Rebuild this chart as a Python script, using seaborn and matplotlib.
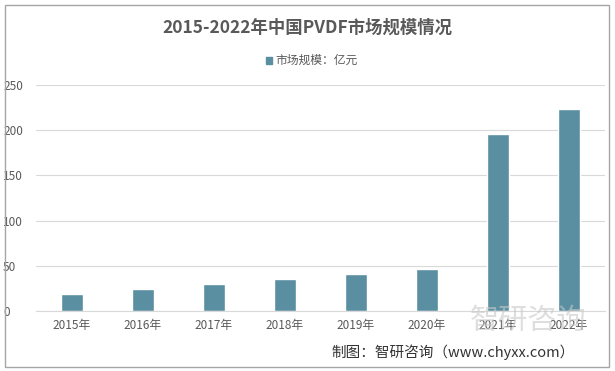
import pandas as pd
import numpy as np
import matplotlib.pyplot as plt
import seaborn as sns
from matplotlib.patches import Rectangle

years=["2015年","2016年","2017年","2018年","2019年","2020年","2021年","2022年"]
market=[18.9,24.3,30.2,35.4,40.9,46.5,195.8,223.5]
yticks=[0,50,100,150,200,250]

df=pd.DataFrame({"year":years,"value":market})

sns.set_style("white")
plt.rcParams['font.family']=['Noto Sans CJK SC','DejaVu Sans']

fig=plt.figure(figsize=(6.15,3.71),dpi=100)
ax=fig.add_axes([0.059,0.162,0.924,0.609])

bar_color="#5a8fa2"
sns.barplot(data=df,x="year",y="value",color=bar_color,width=0.305,ax=ax,saturation=1)

ax.set_ylim(0,250)
ax.set_yticks(yticks)
ax.set_xlim(-0.5,7.5)
ax.grid(axis="y",color="#d9d9d9",lw=0.8)
ax.set_axisbelow(True)
for s in ["top","right","left"]:
    ax.spines[s].set_visible(False)
ax.spines["bottom"].set_color("#d9d9d9")
ax.tick_params(axis="both",length=0,labelsize=8.5,colors="#595959")
ax.tick_params(axis="x",pad=6)
ax.set_xlabel("")
ax.set_ylabel("")
for t in ax.get_yticklabels():
    t.set_horizontalalignment("left")
    t.set_x(-0.05)

# frame round the whole chart
fig.patches.append(Rectangle((0.008,0.011),0.983,0.976,transform=fig.transFigure,
                             fill=False,edgecolor="#a6a6a6",lw=1))

fig.text(0.5,0.925,"2015-2022年中国PVDF市场规模情况",ha="center",va="center",
         fontsize=12.5,fontweight="bold",color="#595959")

# legend
fig.patches.append(Rectangle((0.432,0.828),0.011,0.018,transform=fig.transFigure,
                             color=bar_color))
fig.text(0.448,0.837,"市场规模：亿元",ha="left",va="center",fontsize=8.5,color="#595959")

# watermark
fig.text(0.858,0.135,"智研咨询",ha="center",va="center",fontsize=21,color="#c8c8c8",alpha=0.6)
fig.text(0.935,0.05,"制图：智研咨询（www.chyxx.com）",ha="right",va="center",
         fontsize=10.5,color="#333333")

plt.savefig("out.png",dpi=100)
